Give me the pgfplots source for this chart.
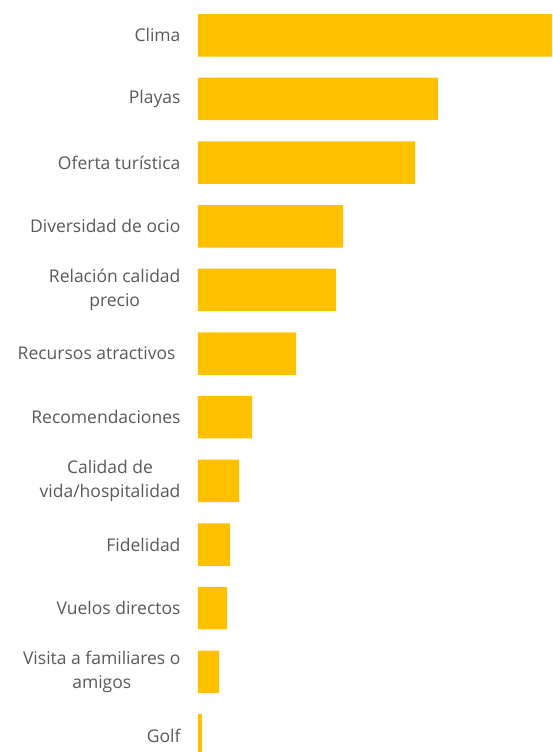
\documentclass[border=0pt]{standalone}
\usepackage{pgfplots}
\pgfplotsset{compat=1.18}
\usepackage{fontspec}
\setmainfont{Open Sans}
\definecolor{gold}{HTML}{FFC000}
\definecolor{lab}{HTML}{595959}
\begin{document}
\begin{tikzpicture}
\useasboundingbox (0,0) rectangle (552pt,752pt);
\begin{axis}[
    at={(198pt,0pt)}, anchor=south west,
    scale only axis,
    width=354pt, height=752pt,
    xbar, bar width=0.668,
    xmin=0, xmax=354,
    ymin=-0.555, ymax=11.26,
    y dir=reverse,
    axis line style={draw=none},
    xtick=\empty,
    ytick={0,...,11},
    yticklabels={Clima,Playas,Oferta turística,Diversidad de ocio,Relación calidad\\precio,Recursos atractivos\hspace*{5pt},Recomendaciones,Calidad de\\vida/hospitalidad,Fidelidad,Vuelos directos,Visita a familiares o\\amigos,Golf},
    yticklabel style={font=\fontsize{17.5}{24}\selectfont, text=lab, align=center},
    major tick length=0pt,
    tick style={draw=none},
    yticklabel shift=14pt,
]
\addplot[fill=gold, draw=none] coordinates {
    (356,0) (240,1) (217,2) (145,3) (138,4) (98,5) (54,6) (41,7) (32,8) (29,9) (21,10) (4,11)
};
\end{axis}
\end{tikzpicture}
\end{document}
